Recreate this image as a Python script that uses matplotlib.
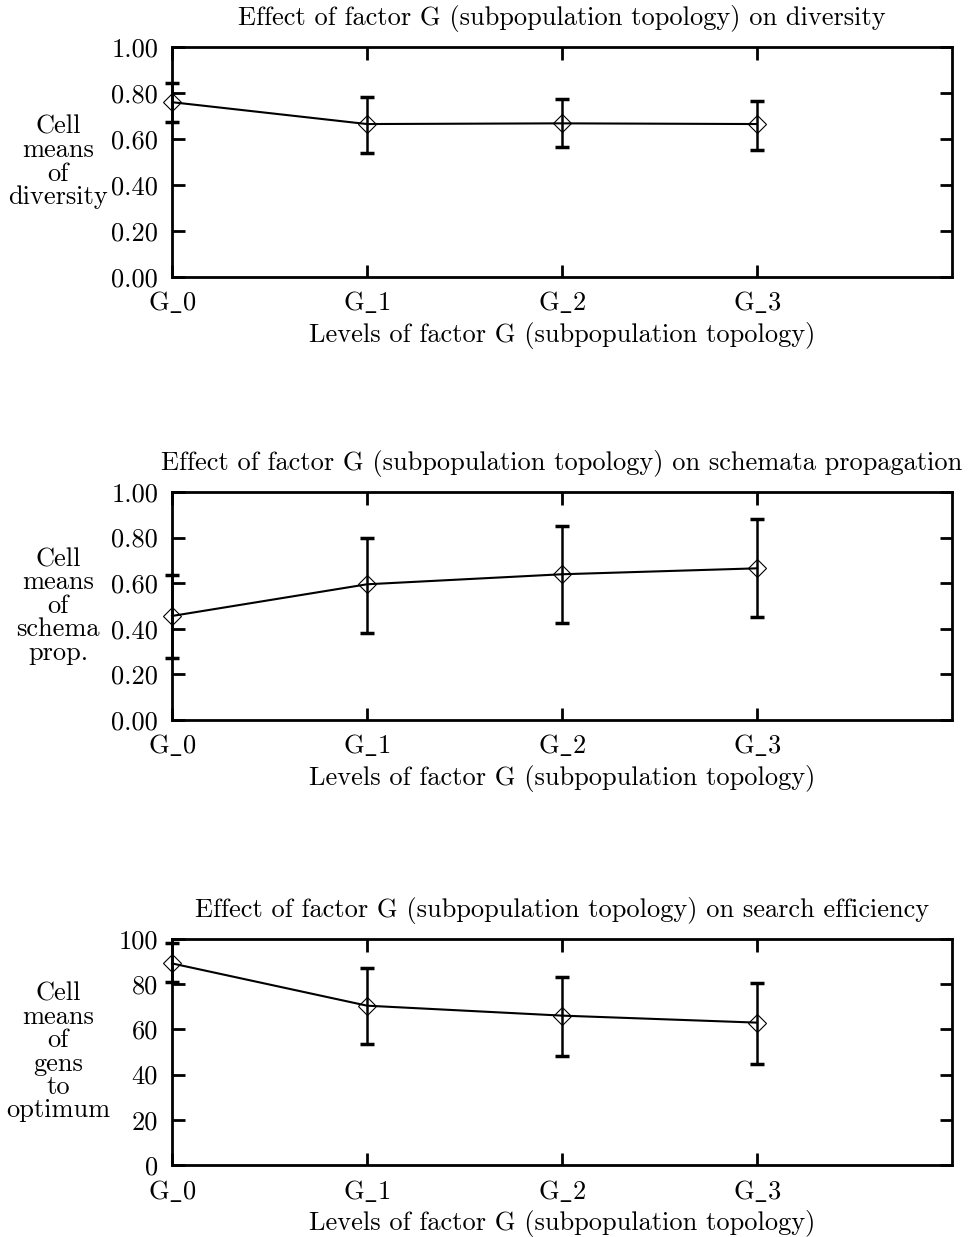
import matplotlib
matplotlib.use('Agg')
import matplotlib.pyplot as plt

plt.rcParams['font.family'] = ['cmr10', 'DejaVu Serif']
plt.rcParams['mathtext.fontset'] = 'cm'
plt.rcParams['axes.formatter.use_mathtext'] = True

# levels of factor G
levels = [r'G$\_$0', r'G$\_$1', r'G$\_$2', r'G$\_$3']

# diversity cell means and error bar ends
div_mean = [0.76, 0.665, 0.668, 0.665]
div_low = [0.674, 0.541, 0.564, 0.552]
div_high = [0.843, 0.784, 0.774, 0.765]

# schemata propagation
sch_mean = [0.456, 0.595, 0.639, 0.665]
sch_low = [0.27, 0.38, 0.427, 0.453]
sch_high = [0.636, 0.80, 0.852, 0.88]

# search efficiency (gens to optimum)
eff_mean = [89.2, 70.5, 66.1, 63.0]
eff_low = [81.0, 53.5, 48.4, 44.6]
eff_high = [98.2, 87.0, 83.0, 80.7]

titles = ['Effect of factor G (subpopulation topology) on diversity',
          'Effect of factor G (subpopulation topology) on schemata propagation',
          'Effect of factor G (subpopulation topology) on search efficiency']
ylabels = ['Cell\nmeans\nof\ndiversity',
           'Cell\nmeans\nof\nschema\nprop.',
           'Cell\nmeans\nof\ngens\nto\noptimum']
xlabel = 'Levels of factor G (subpopulation topology)'

fig = plt.figure(figsize=(9.68, 12.37), dpi=100)

# axes boxes in figure fractions (left, bottom, width, height)
boxes = [[0.1777, 0.7761, 0.8058, 0.1859],
         [0.1777, 0.4180, 0.8058, 0.1843],
         [0.1777, 0.0582, 0.8058, 0.1827]]

data = [(div_mean, div_low, div_high, 1.0, [0, 0.2, 0.4, 0.6, 0.8, 1.0], '%.2f'),
        (sch_mean, sch_low, sch_high, 1.0, [0, 0.2, 0.4, 0.6, 0.8, 1.0], '%.2f'),
        (eff_mean, eff_low, eff_high, 100, [0, 20, 40, 60, 80, 100], '%d')]

for i in range(3):
    mean, low, high, ymax, yt, fmt = data[i]
    ax = fig.add_axes(boxes[i])
    x = list(range(len(levels)))
    err = [[m - l for m, l in zip(mean, low)], [h - m for m, h in zip(mean, high)]]
    ax.errorbar(x, mean, yerr=err, fmt='none', ecolor='black', elinewidth=1.8,
                capsize=4.7, capthick=2.5, clip_on=False, zorder=3)
    ax.plot(x, mean, color='black', lw=1.5, marker='D', markersize=9,
            markerfacecolor='none', markeredgecolor='black', markeredgewidth=0.8,
            clip_on=False, zorder=4)
    ax.set_xlim(0, 4)
    ax.set_ylim(0, ymax)
    ax.set_xticks(x)
    ax.set_xticklabels(levels)
    ax.set_yticks(yt)
    ax.set_yticklabels([fmt % v for v in yt])
    ax.tick_params(direction='in', length=9, width=2, labelsize=19,
                   top=True, right=True)
    ax.tick_params(axis='y', pad=10)
    ax.tick_params(axis='x', pad=9)
    for s in ax.spines.values():
        s.set_linewidth(2)
    ax.set_title(titles[i], fontsize=19, pad=16)
    ax.set_xlabel(xlabel, fontsize=19, labelpad=5)
    ax.text(-0.146, 0.5, ylabels[i], transform=ax.transAxes, fontsize=19,
            ha='center', va='center', multialignment='center', linespacing=0.98)

fig.savefig('out.png', dpi=100)
